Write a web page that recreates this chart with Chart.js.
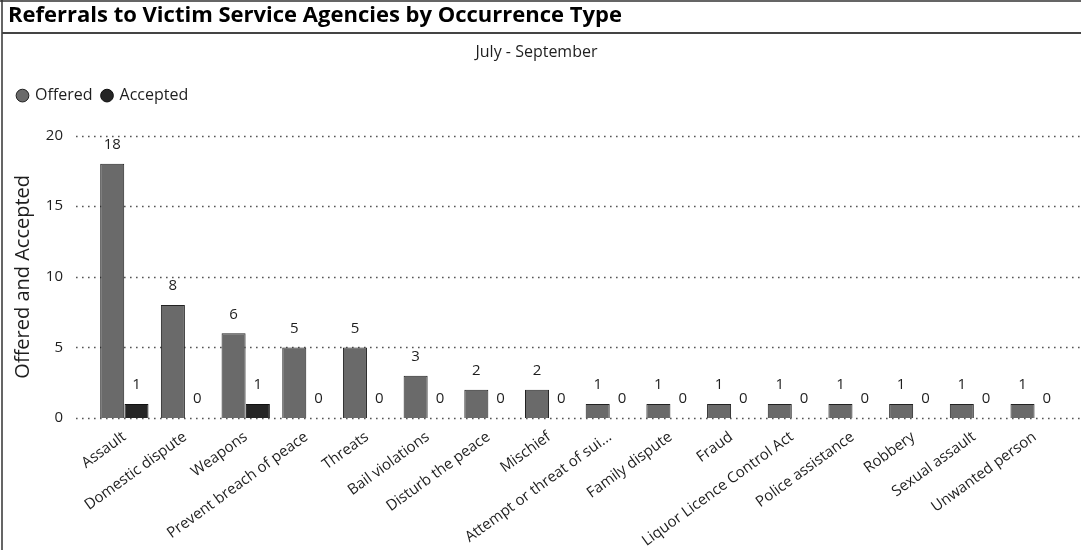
<!DOCTYPE html>
<html>
<head>
<meta charset="utf-8">
<title>Referrals to Victim Service Agencies by Occurrence Type</title>
<script src="https://cdn.jsdelivr.net/npm/chart.js@4.4.1/dist/chart.umd.min.js"></script>
<style>
  html, body { margin: 0; padding: 0; background: #fff; }
  #wrap { width: 1081px; height: 550px; position: relative; }
</style>
</head>
<body>
<div id="wrap"><canvas id="referralChart"></canvas></div>
<script>
// categories and values
const CATEGORIES = [
  'Assault', 'Domestic dispute', 'Weapons', 'Prevent breach of peace', 'Threats',
  'Bail violations', 'Disturb the peace', 'Mischief', 'Attempt or threat of sui...',
  'Family dispute', 'Fraud', 'Liquor Licence Control Act', 'Police assistance',
  'Robbery', 'Sexual assault', 'Unwanted person'
];
const OFFERED = [18, 8, 6, 5, 5, 3, 2, 2, 1, 1, 1, 1, 1, 1, 1, 1];
const ACCEPTED = [1, 0, 1, 0, 0, 0, 0, 0, 0, 0, 0, 0, 0, 0, 0, 0];
const Y_TICKS = [0, 5, 10, 15, 20];

const FONT = "'Open Sans', 'Noto Sans', sans-serif";
const OFFERED_COLOR = '#6a6a6a';
const ACCEPTED_COLOR = '#252525';
const INK = '#1e1e1e';

// frame lines: left border, top border, title underline
const framePlugin = {
  id: 'frame',
  beforeDraw(chart) {
    const { ctx, width, height } = chart;
    ctx.save();
    ctx.fillStyle = '#fff';
    ctx.fillRect(0, 0, width, height);
    ctx.strokeStyle = '#333';
    ctx.lineWidth = 1.5;
    ctx.beginPath();
    ctx.moveTo(2, 0);
    ctx.lineTo(2, height);
    ctx.moveTo(0, 1);
    ctx.lineTo(width, 1);
    ctx.stroke();
    ctx.strokeStyle = '#444';
    ctx.lineWidth = 2;
    ctx.beginPath();
    ctx.moveTo(2, 33);
    ctx.lineTo(width, 33);
    ctx.stroke();
    ctx.restore();
  }
};

// extra room under the legend, the plot starts lower in the original
const legendGapPlugin = {
  id: 'legendGap',
  beforeInit(chart) {
    const fit = chart.legend.fit;
    chart.legend.fit = function () {
      fit.call(this);
      this.height += 22;
    };
  }
};

// dotted gridlines running past the plot area, as in the original
const dottedGridPlugin = {
  id: 'dottedGrid',
  beforeDatasetsDraw(chart) {
    const { ctx, width } = chart;
    const y = chart.scales.y;
    ctx.save();
    ctx.strokeStyle = '#555';
    ctx.lineWidth = 1.6;
    ctx.setLineDash([1.6, 4.4]);
    Y_TICKS.forEach((v) => {
      const py = Math.round(y.getPixelForValue(v)) + 0.5;
      ctx.beginPath();
      ctx.moveTo(76, py);
      ctx.lineTo(width, py);
      ctx.stroke();
    });
    ctx.restore();
  }
};

// value labels over each bar
const valueLabelPlugin = {
  id: 'valueLabels',
  afterDatasetsDraw(chart) {
    const { ctx } = chart;
    ctx.save();
    ctx.fillStyle = INK;
    ctx.font = `15px ${FONT}`;
    ctx.textAlign = 'center';
    ctx.textBaseline = 'middle';
    chart.data.datasets.forEach((ds, di) => {
      const meta = chart.getDatasetMeta(di);
      meta.data.forEach((bar, i) => {
        ctx.fillText(String(ds.data[i]), bar.x, bar.y - 19);
      });
    });
    ctx.restore();
  }
};

const ctx = document.getElementById('referralChart').getContext('2d');
new Chart(ctx, {
  type: 'bar',
  data: {
    labels: CATEGORIES,
    datasets: [
      {
        label: 'Offered',
        data: OFFERED,
        backgroundColor: OFFERED_COLOR,
        borderColor: '#222',
        borderWidth: 1,
        barPercentage: 0.99,
        categoryPercentage: 0.8
      },
      {
        label: 'Accepted',
        data: ACCEPTED,
        backgroundColor: ACCEPTED_COLOR,
        borderColor: '#111',
        borderWidth: 1,
        barPercentage: 0.99,
        categoryPercentage: 0.8
      }
    ]
  },
  options: {
    responsive: true,
    maintainAspectRatio: false,
    animation: false,
    layout: { padding: { left: 8, right: 16, top: 0, bottom: 0 } },
    plugins: {
      title: {
        display: true,
        text: 'Referrals to Victim Service Agencies by Occurrence Type',
        align: 'start',
        color: '#000',
        font: { family: FONT, size: 22, weight: 'bold' },
        padding: { top: 3, bottom: 6 }
      },
      subtitle: {
        display: true,
        text: 'July - September',
        color: INK,
        font: { family: FONT, size: 16 },
        padding: { top: 7, bottom: 16 }
      },
      legend: {
        display: true,
        position: 'top',
        align: 'start',
        labels: {
          usePointStyle: true,
          pointStyle: 'circle',
          boxWidth: 9,
          boxHeight: 9,
          padding: 10,
          color: INK,
          font: { family: FONT, size: 16 }
        }
      },
      tooltip: { enabled: false }
    },
    scales: {
      x: {
        grid: { display: false },
        border: { display: false },
        ticks: {
          color: INK,
          font: { family: FONT, size: 15 },
          minRotation: 36,
          maxRotation: 36,
          autoSkip: false,
          padding: 2
        },
        afterFit(scale) { scale.height = 132; }
      },
      y: {
        min: 0,
        max: 20,
        grid: { display: false, drawTicks: false },
        border: { display: false },
        ticks: {
          stepSize: 5,
          color: INK,
          font: { family: FONT, size: 15 },
          padding: 31
        },
        title: {
          display: true,
          text: 'Offered and Accepted',
          color: INK,
          font: { family: FONT, size: 20 },
          padding: { top: 3, bottom: 0 }
        },
        afterFit(scale) { scale.width = 86; }
      }
    }
  },
  plugins: [framePlugin, legendGapPlugin, dottedGridPlugin, valueLabelPlugin]
});
</script>
</body>
</html>
